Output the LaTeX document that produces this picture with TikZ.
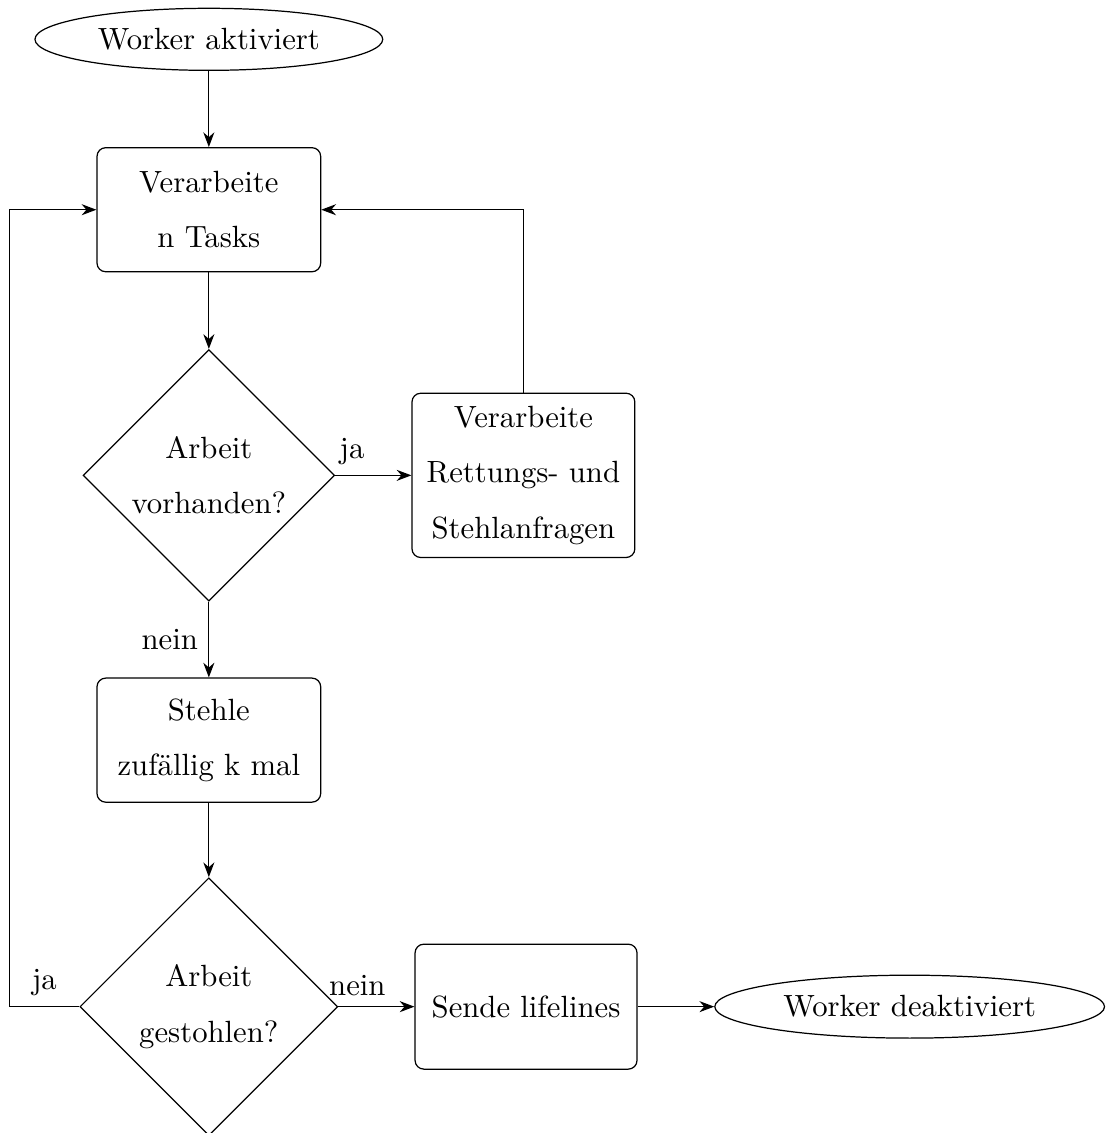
\documentclass[tikz,border=0pt]{standalone}
\usetikzlibrary{arrows.meta, shapes.geometric, positioning}

\tikzset{
  startstop/.style = {draw, ellipse, inner sep=0pt},
  process/.style = {draw, rectangle, rounded corners=0.1cm, align=center, inner sep=0pt,
    minimum width=2.56cm, minimum height=1.42cm, font=\linespread{1.5}\selectfont},
  decision/.style = {draw, diamond, align=center, inner sep=0pt, aspect=1,
    font=\linespread{1.5}\selectfont},
  arrow/.style = {-{Stealth}},
}

\begin{document}
\begin{tikzpicture}
      \useasboundingbox (0,0) rectangle (12.657,-12.966);

      \node[startstop, minimum width=3.98cm, minimum height=0.71cm] at (2.39, -0.45) (start) {Worker aktiviert};
      \node[process] at (2.39, -2.40) (tasks) {Verarbeite\\n Tasks};
      \node[decision, minimum width=2.88cm, minimum height=2.88cm] at (2.39, -5.44) (work) {Arbeit\\vorhanden?};
      \node[process, minimum width=2.55cm, minimum height=1.88cm] at (5.99, -5.44) (rescue) {Verarbeite\\Rettungs- und\\Stehlanfragen};
      \node[process] at (2.39, -8.47) (steal) {Stehle\\zufällig k mal};
      \node[decision, minimum width=2.95cm, minimum height=2.95cm] at (2.39, -11.52) (stolen) {Arbeit\\gestohlen?};
      \node[process, minimum width=2.54cm, minimum height=1.43cm] at (6.02, -11.52) (lifelines) {Sende lifelines};
      \node[startstop, minimum width=4.46cm, minimum height=0.72cm] at (10.41, -11.52) (stop) {Worker deaktiviert};

      \coordinate (back) at ([xshift=-0.8cm]stolen.west);

      \draw[arrow] (start) -- (tasks);
      \draw[arrow] (tasks) -- (work);
      \draw[arrow] (work.east) -- node[pos=0.22, above] {ja} (rescue.west);
      \draw[arrow] (work.south) -- node[midway, left] {nein} (steal.north);
      \draw[arrow] (rescue.north) |- (tasks.east);
      \draw[arrow] (steal) -- (stolen);
      \draw[arrow] (stolen.east) -- node[pos=0.25, above] {nein} (lifelines.west);
      \draw[arrow] (stolen.west) -- node[midway, above] {ja} (back) |- (tasks.west);
      \draw[arrow] (lifelines) -- (stop);
    \end{tikzpicture}
\end{document}
